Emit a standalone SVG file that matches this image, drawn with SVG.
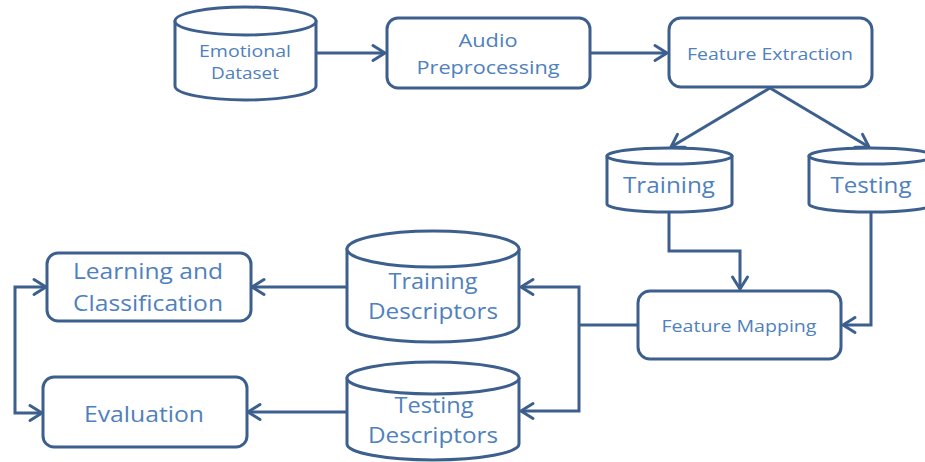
<svg xmlns="http://www.w3.org/2000/svg" width="925" height="462" viewBox="0 0 925 462">
  <style>
    .shape { fill: #ffffff; stroke: #3c5f8d; stroke-width: 3; stroke-linejoin: round; }
    .wire { fill: none; stroke: #3c5f8d; stroke-width: 3; }
    .label { font-family: "Open Sans", "Liberation Sans", sans-serif; fill: #4f81bd; text-anchor: middle; }
  </style>
  <defs>
    <marker id="chev" markerUnits="userSpaceOnUse" markerWidth="20" markerHeight="20" refX="15" refY="10" orient="auto-start-reverse" viewBox="0 0 20 20">
      <path d="M3,2.5 L15,10 L3,17.5" fill="none" stroke="#3c5f8d" stroke-width="3" stroke-linecap="round" stroke-linejoin="round"/>
    </marker>
  </defs>

  <rect width="925" height="462" fill="#ffffff"/>

  <!-- connectors -->
  <g id="connectors">
    <path class="wire" d="M316,53 L385,53" marker-end="url(#chev)"/>
    <path class="wire" d="M590,53 L667,53" marker-end="url(#chev)"/>
    <path class="wire" d="M770,88 L671,147" marker-end="url(#chev)"/>
    <path class="wire" d="M770,88 L869,147" marker-end="url(#chev)"/>
    <path class="wire" d="M669,212 L669,251 L740,251 L740,289" marker-end="url(#chev)"/>
    <path class="wire" d="M871,212 L871,325 L843,325" marker-end="url(#chev)"/>
    <path class="wire" d="M638,325 L579,325"/>
    <path class="wire" d="M579,325 L579,287 L521,287" marker-end="url(#chev)"/>
    <path class="wire" d="M579,325 L579,411 L521,411" marker-end="url(#chev)"/>
    <path class="wire" d="M347,287 L252,287" marker-end="url(#chev)"/>
    <path class="wire" d="M347,412 L248,412" marker-end="url(#chev)"/>
    <path class="wire" d="M46,287 L15,287 L15,413 L42,413" marker-start="url(#chev)" marker-end="url(#chev)"/>
  </g>

  <!-- Emotional Dataset (store) -->
  <g id="emotional-dataset">
    <path class="shape" d="M175,21 L175,86 A70.5,14 0 0 0 316,86 L316,21 Z"/>
    <ellipse class="shape" cx="245.5" cy="21" rx="70.5" ry="14"/>
    <text class="label" x="245" y="57" font-size="16.5" textLength="92" lengthAdjust="spacingAndGlyphs">Emotional</text>
    <text class="label" x="245" y="79" font-size="16.5" textLength="68" lengthAdjust="spacingAndGlyphs">Dataset</text>
  </g>

  <!-- Audio Preprocessing -->
  <g id="audio-preprocessing">
    <rect class="shape" x="387" y="18" width="203" height="70" rx="11"/>
    <text class="label" x="488" y="47" font-size="18" textLength="59" lengthAdjust="spacingAndGlyphs">Audio</text>
    <text class="label" x="488" y="74" font-size="18" textLength="143" lengthAdjust="spacingAndGlyphs">Preprocessing</text>
  </g>

  <!-- Feature Extraction -->
  <g id="feature-extraction">
    <rect class="shape" x="669" y="18" width="203" height="69" rx="12"/>
    <text class="label" x="770" y="60" font-size="16" textLength="166" lengthAdjust="spacingAndGlyphs">Feature Extraction</text>
  </g>

  <!-- Training set (store) -->
  <g id="training">
    <path class="shape" d="M607,156 L607,204 A62.5,8 0 0 0 732,204 L732,156 Z"/>
    <ellipse class="shape" cx="669.5" cy="156" rx="62.5" ry="8"/>
    <text class="label" x="669" y="193" font-size="22" textLength="92" lengthAdjust="spacingAndGlyphs">Training</text>
  </g>

  <!-- Testing set (store) -->
  <g id="testing">
    <path class="shape" d="M809,156 L809,204 A62,8 0 0 0 933,204 L933,156 Z"/>
    <ellipse class="shape" cx="871" cy="156" rx="62" ry="8"/>
    <text class="label" x="871" y="193" font-size="22" textLength="81" lengthAdjust="spacingAndGlyphs">Testing</text>
  </g>

  <!-- Feature Mapping -->
  <g id="feature-mapping">
    <rect class="shape" x="638" y="291" width="203" height="68" rx="12"/>
    <text class="label" x="739" y="332" font-size="16" textLength="155" lengthAdjust="spacingAndGlyphs">Feature Mapping</text>
  </g>

  <!-- Training Descriptors (store) -->
  <g id="training-descriptors">
    <path class="shape" d="M347,249 L347,325 A86,17 0 0 0 519,325 L519,249 Z"/>
    <ellipse class="shape" cx="433" cy="249" rx="86" ry="18"/>
    <text class="label" x="433" y="289" font-size="22" textLength="89" lengthAdjust="spacingAndGlyphs">Training</text>
    <text class="label" x="433" y="319" font-size="22" textLength="130" lengthAdjust="spacingAndGlyphs">Descriptors</text>
  </g>

  <!-- Testing Descriptors (store) -->
  <g id="testing-descriptors">
    <path class="shape" d="M347,378 L347,444 A86,16 0 0 0 519,444 L519,378 Z"/>
    <ellipse class="shape" cx="433" cy="378" rx="86" ry="16"/>
    <text class="label" x="434" y="413" font-size="22" textLength="79" lengthAdjust="spacingAndGlyphs">Testing</text>
    <text class="label" x="433" y="443" font-size="22" textLength="130" lengthAdjust="spacingAndGlyphs">Descriptors</text>
  </g>

  <!-- Learning and Classification -->
  <g id="learning-classification">
    <rect class="shape" x="47" y="253" width="204" height="68" rx="11"/>
    <text class="label" x="148" y="279" font-size="22" textLength="150" lengthAdjust="spacingAndGlyphs">Learning and</text>
    <text class="label" x="148" y="311" font-size="22" textLength="150" lengthAdjust="spacingAndGlyphs">Classification</text>
  </g>

  <!-- Evaluation -->
  <g id="evaluation">
    <rect class="shape" x="43" y="377" width="204" height="70" rx="11"/>
    <text class="label" x="144" y="422" font-size="22" textLength="120" lengthAdjust="spacingAndGlyphs">Evaluation</text>
  </g>
</svg>
